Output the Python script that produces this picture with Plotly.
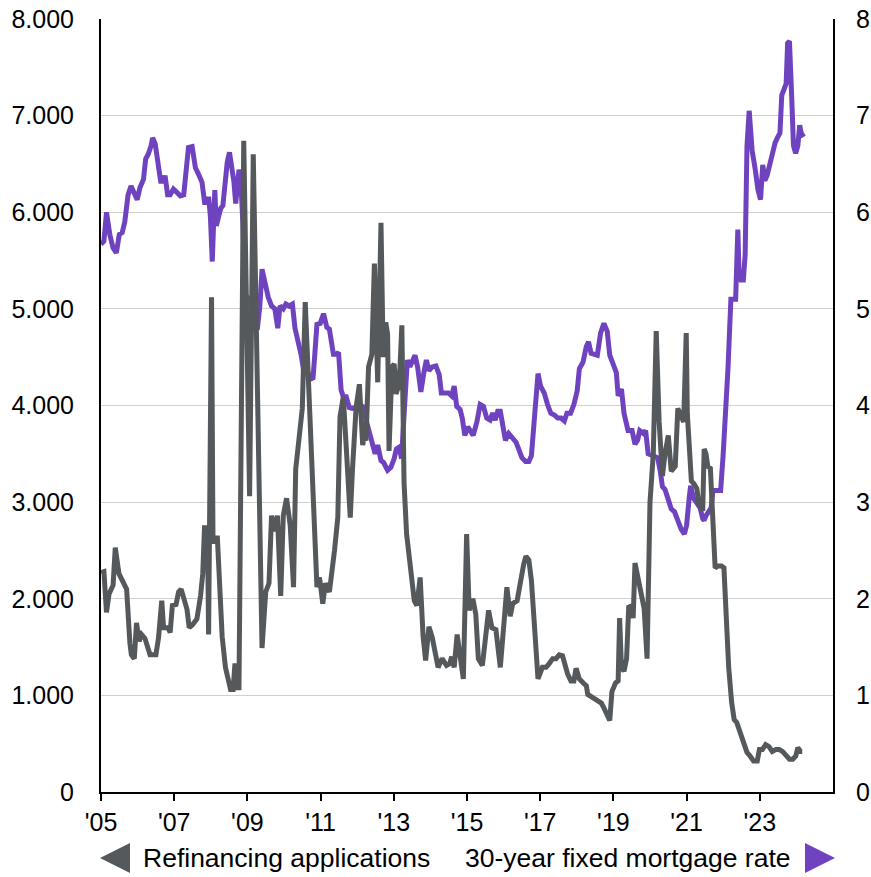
import plotly.graph_objects as go

# Refinancing applications (index, left axis)
refi_years = [
    2005.00, 2005.08, 2005.15, 2005.22, 2005.33, 2005.39, 2005.49, 2005.58, 2005.70, 2005.79,
    2005.83, 2005.91, 2005.97, 2006.04, 2006.11, 2006.20, 2006.28, 2006.34, 2006.40, 2006.50,
    2006.57, 2006.66, 2006.71, 2006.83, 2006.89, 2006.95, 2007.05, 2007.12, 2007.19, 2007.28,
    2007.35, 2007.41, 2007.50, 2007.62, 2007.72, 2007.78, 2007.83, 2007.87, 2007.91, 2007.94,
    2008.02, 2008.06, 2008.13, 2008.18, 2008.24, 2008.31, 2008.40, 2008.50, 2008.54, 2008.61,
    2008.66, 2008.72, 2008.77, 2008.90, 2009.06, 2009.16, 2009.40, 2009.50, 2009.59, 2009.66,
    2009.73, 2009.82, 2009.91, 2009.98, 2010.07, 2010.17, 2010.26, 2010.32, 2010.39, 2010.50,
    2010.58, 2010.65, 2010.76, 2010.83, 2010.90, 2010.97, 2011.06, 2011.13, 2011.24, 2011.38,
    2011.47, 2011.53, 2011.62, 2011.69, 2011.81, 2011.87, 2011.97, 2012.06, 2012.15, 2012.19,
    2012.24, 2012.31, 2012.40, 2012.47, 2012.56, 2012.65, 2012.71, 2012.78, 2012.83, 2012.87,
    2012.95, 2013.01, 2013.06, 2013.12, 2013.17, 2013.22, 2013.28, 2013.35, 2013.42, 2013.56,
    2013.63, 2013.72, 2013.80, 2013.87, 2013.96, 2014.05, 2014.21, 2014.32, 2014.44, 2014.53,
    2014.58, 2014.65, 2014.73, 2014.81, 2014.90, 2014.99, 2015.06, 2015.16, 2015.24, 2015.31,
    2015.42, 2015.51, 2015.59, 2015.68, 2015.79, 2015.91, 2016.00, 2016.09, 2016.18, 2016.25,
    2016.37, 2016.46, 2016.55, 2016.61, 2016.69, 2016.76, 2016.85, 2016.94, 2017.06, 2017.16,
    2017.25, 2017.34, 2017.43, 2017.52, 2017.61, 2017.68, 2017.75, 2017.84, 2017.92, 2017.98,
    2018.07, 2018.17, 2018.26, 2018.30, 2018.39, 2018.49, 2018.58, 2018.67, 2018.74, 2018.83,
    2018.90, 2018.96, 2019.06, 2019.13, 2019.17, 2019.22, 2019.29, 2019.36, 2019.42, 2019.50,
    2019.54, 2019.59, 2019.68, 2019.77, 2019.84, 2019.92, 2020.00, 2020.09, 2020.17, 2020.25,
    2020.34, 2020.41, 2020.50, 2020.58, 2020.69, 2020.76, 2020.83, 2020.92, 2020.99, 2021.02,
    2021.07, 2021.13, 2021.20, 2021.28, 2021.34, 2021.39, 2021.44, 2021.48, 2021.53, 2021.58,
    2021.65, 2021.72, 2021.78, 2021.86, 2021.95, 2022.02, 2022.09, 2022.15, 2022.23, 2022.30,
    2022.37, 2022.46, 2022.55, 2022.65, 2022.74, 2022.83, 2022.93, 2022.99, 2023.07, 2023.16,
    2023.25, 2023.34, 2023.44, 2023.53, 2023.62, 2023.72, 2023.81, 2023.90, 2023.98, 2024.04,
    2024.11, 2024.16,
]
refi_values = [
    2270, 2280, 1860, 2050, 2140, 2530, 2260, 2190, 2100, 1540,
    1420, 1380, 1750, 1560, 1630, 1590, 1490, 1420, 1420, 1420,
    1590, 1980, 1700, 1700, 1650, 1930, 1940, 2070, 2100, 1980,
    1890, 1700, 1730, 1790, 2030, 2260, 2760, 2530, 2720, 1630,
    5120, 2580, 2630, 2630, 2070, 1610, 1290, 1100, 1060, 1060,
    1330, 1080, 1080, 6740, 3060, 6600, 1490, 2070, 2160, 2860,
    2700, 2860, 2030, 2860, 3040, 2760, 2120, 3340, 3550, 3970,
    5070, 4380, 3460, 2910, 2120, 2220, 1950, 2160, 2070, 2500,
    2840, 3880, 4090, 3640, 2840, 3330, 3980, 4220, 3590, 3670,
    3640, 4400, 4530, 5470, 4240, 5890, 4500, 4860, 4740, 3530,
    4400, 4430, 4120, 4190, 4400, 4830, 3200, 2670, 2430, 1980,
    1930, 2220, 1610, 1360, 1710, 1600, 1290, 1380, 1310, 1330,
    1400, 1290, 1630, 1380, 1170, 2670, 1880, 2000, 1840, 1380,
    1310, 1610, 1880, 1700, 1680, 1290, 1750, 2120, 1820, 1950,
    1980, 2190, 2360, 2440, 2400, 2190, 1610, 1170, 1290, 1290,
    1330, 1380, 1380, 1420, 1410, 1310, 1220, 1150, 1150, 1280,
    1170, 1130, 1100, 1010, 990, 960, 940, 920, 870, 800,
    740, 1040, 1130, 1150, 1800, 1290, 1250, 1380, 1930, 1900,
    1800, 2370, 2190, 2030, 1900, 1380, 3000, 3500, 4770, 3830,
    3270, 3500, 3690, 3320, 3370, 3970, 3920, 3830, 4750, 3910,
    3600, 3220, 3190, 3140, 2960, 2980, 2910, 3550, 3500, 3370,
    3350, 2680, 2320, 2340, 2340, 2320, 1650, 1290, 930, 750,
    720, 620, 510, 410, 370, 320, 320, 440, 440, 490,
    470, 420, 440, 440, 420, 370, 340, 340, 370, 460,
    420, 420,
]

# 30-year fixed mortgage rate (%, right axis)
rate_years = [
    2005.00, 2005.08, 2005.15, 2005.24, 2005.33, 2005.42, 2005.50, 2005.58, 2005.65, 2005.74,
    2005.82, 2005.91, 2005.99, 2006.06, 2006.16, 2006.22, 2006.29, 2006.37, 2006.41, 2006.48,
    2006.55, 2006.63, 2006.71, 2006.75, 2006.82, 2006.89, 2006.98, 2007.07, 2007.17, 2007.26,
    2007.32, 2007.39, 2007.49, 2007.58, 2007.67, 2007.76, 2007.83, 2007.91, 2007.94, 2007.99,
    2008.04, 2008.08, 2008.11, 2008.15, 2008.20, 2008.27, 2008.33, 2008.39, 2008.45, 2008.51,
    2008.57, 2008.63, 2008.68, 2008.72, 2008.77, 2008.82, 2008.88, 2008.94, 2009.00, 2009.09,
    2009.18, 2009.28, 2009.34, 2009.40, 2009.48, 2009.57, 2009.66, 2009.75, 2009.83, 2009.89,
    2009.98, 2010.05, 2010.14, 2010.23, 2010.30, 2010.39, 2010.47, 2010.53, 2010.62, 2010.72,
    2010.79, 2010.83, 2010.90, 2010.99, 2011.08, 2011.17, 2011.24, 2011.35, 2011.43, 2011.49,
    2011.56, 2011.62, 2011.70, 2011.78, 2011.87, 2011.98, 2012.10, 2012.15, 2012.28, 2012.42,
    2012.49, 2012.56, 2012.65, 2012.72, 2012.83, 2012.92, 2013.01, 2013.07, 2013.15, 2013.21,
    2013.28, 2013.37, 2013.44, 2013.51, 2013.58, 2013.65, 2013.74, 2013.83, 2013.89, 2013.96,
    2014.05, 2014.15, 2014.24, 2014.30, 2014.39, 2014.49, 2014.58, 2014.65, 2014.72, 2014.81,
    2014.87, 2014.94, 2015.02, 2015.08, 2015.17, 2015.27, 2015.36, 2015.45, 2015.54, 2015.63,
    2015.70, 2015.77, 2015.84, 2015.91, 2015.97, 2016.05, 2016.14, 2016.23, 2016.34, 2016.41,
    2016.50, 2016.60, 2016.69, 2016.76, 2016.83, 2016.89, 2016.94, 2017.01, 2017.11, 2017.20,
    2017.29, 2017.39, 2017.48, 2017.57, 2017.66, 2017.73, 2017.83, 2017.92, 2018.01, 2018.07,
    2018.17, 2018.26, 2018.32, 2018.39, 2018.49, 2018.56, 2018.65, 2018.74, 2018.83, 2018.90,
    2018.99, 2019.08, 2019.13, 2019.22, 2019.29, 2019.40, 2019.51, 2019.59, 2019.66, 2019.72,
    2019.82, 2019.88, 2019.95, 2020.05, 2020.14, 2020.21, 2020.28, 2020.34, 2020.41, 2020.49,
    2020.58, 2020.67, 2020.76, 2020.85, 2020.94, 2021.00, 2021.07, 2021.11, 2021.19, 2021.25,
    2021.32, 2021.37, 2021.44, 2021.48, 2021.53, 2021.60, 2021.67, 2021.72, 2021.78, 2021.86,
    2021.93, 2022.00, 2022.06, 2022.13, 2022.21, 2022.27, 2022.34, 2022.40, 2022.43, 2022.49,
    2022.55, 2022.60, 2022.65, 2022.71, 2022.79, 2022.88, 2022.95, 2023.02, 2023.08, 2023.14,
    2023.20, 2023.27, 2023.34, 2023.42, 2023.48, 2023.55, 2023.60, 2023.67, 2023.72, 2023.76,
    2023.81, 2023.87, 2023.92, 2023.98, 2024.04, 2024.09, 2024.13, 2024.20,
]
rate_values = [
    5.67, 5.70, 6.00, 5.77, 5.63, 5.58, 5.77, 5.79, 5.90, 6.18,
    6.27, 6.20, 6.13, 6.25, 6.34, 6.55, 6.60, 6.69, 6.77, 6.71,
    6.50, 6.32, 6.32, 6.38, 6.18, 6.18, 6.24, 6.20, 6.17, 6.18,
    6.41, 6.67, 6.68, 6.46, 6.39, 6.31, 6.10, 6.10, 6.16, 5.95,
    5.49, 5.95, 6.23, 5.86, 5.95, 6.04, 6.07, 6.32, 6.52, 6.62,
    6.50, 6.32, 6.09, 6.34, 6.44, 6.32, 5.86, 5.12, 5.12, 5.07,
    4.84, 4.82, 5.03, 5.41, 5.26, 5.12, 5.03, 5.00, 4.80, 5.03,
    5.00, 5.05, 5.03, 5.05, 4.80, 4.66, 4.52, 4.38, 4.36, 4.29,
    4.27, 4.47, 4.84, 4.85, 4.95, 4.81, 4.79, 4.53, 4.53, 4.55,
    4.16, 4.09, 4.09, 3.98, 3.97, 3.98, 3.97, 3.98, 3.78, 3.60,
    3.50, 3.59, 3.43, 3.41, 3.33, 3.36, 3.45, 3.55, 3.57, 3.45,
    3.95, 4.47, 4.40, 4.48, 4.52, 4.40, 4.14, 4.36, 4.47, 4.36,
    4.40, 4.41, 4.32, 4.13, 4.13, 4.13, 4.10, 4.20, 3.99, 3.96,
    3.87, 3.69, 3.78, 3.74, 3.69, 3.83, 4.01, 3.99, 3.87, 3.85,
    3.92, 3.85, 3.94, 3.94, 3.78, 3.64, 3.71, 3.67, 3.62, 3.55,
    3.46, 3.42, 3.42, 3.48, 3.87, 4.20, 4.33, 4.20, 4.13, 4.01,
    3.92, 3.90, 3.87, 3.87, 3.84, 3.92, 3.92, 4.01, 4.15, 4.38,
    4.45, 4.61, 4.66, 4.54, 4.52, 4.52, 4.75, 4.85, 4.77, 4.52,
    4.43, 4.34, 4.10, 4.17, 3.92, 3.74, 3.74, 3.60, 3.64, 3.74,
    3.71, 3.74, 3.50, 3.48, 3.46, 3.46, 3.32, 3.16, 3.13, 3.04,
    2.93, 2.90, 2.81, 2.72, 2.67, 2.76, 3.04, 3.17, 3.04, 3.00,
    2.96, 2.94, 2.83, 2.81, 2.86, 2.91, 2.94, 3.12, 3.12, 3.12,
    3.12, 3.50, 3.86, 4.38, 5.10, 5.10, 5.10, 5.82, 5.41, 5.30,
    5.30, 5.56, 6.69, 7.05, 6.64, 6.43, 6.23, 6.13, 6.49, 6.33,
    6.38, 6.49, 6.61, 6.72, 6.77, 6.82, 7.21, 7.28, 7.33, 7.75,
    7.77, 7.21, 6.69, 6.61, 6.69, 6.90, 6.82, 6.78,
]

x_tick_vals = [2005, 2007, 2009, 2011, 2013, 2015, 2017, 2019, 2021, 2023]
x_tick_text = ["'05", "'07", "'09", "'11", "'13", "'15", "'17", "'19", "'21", "'23"]
left_tick_vals = [0, 1000, 2000, 3000, 4000, 5000, 6000, 7000, 8000]
left_tick_text = ["0", "1.000", "2.000", "3.000", "4.000", "5.000", "6.000", "7.000", "8.000"]
right_tick_vals = [0, 1, 2, 3, 4, 5, 6, 7, 8]
right_tick_text = ["0", "1", "2", "3", "4", "5", "6", "7", "8"]

GRAY = "#55595c"
PURPLE = "#6f43bf"
FONT = "Liberation Sans, Arial, sans-serif"
FS = 25

fig = go.Figure()
fig.add_trace(go.Scatter(x=rate_years, y=rate_values, mode="lines", yaxis="y",
                         line=dict(color=PURPLE, width=5), name="30-year fixed mortgage rate"))
fig.add_trace(go.Scatter(x=refi_years, y=refi_values, mode="lines", yaxis="y2",
                         line=dict(color=GRAY, width=5), name="Refinancing applications"))

fig.update_layout(
    width=871, height=877,
    margin=dict(l=101, r=38, t=19, b=85),
    paper_bgcolor="white", plot_bgcolor="white",
    showlegend=False,
    font=dict(family=FONT, size=FS, color="black"),
    xaxis=dict(range=[2005, 2025], tickvals=x_tick_vals, ticktext=x_tick_text, automargin=False,
               showgrid=False, zeroline=False, showline=True, linecolor="black", linewidth=2,
               ticks="outside", ticklen=7, tickwidth=2, tickcolor="black"),
    yaxis=dict(range=[0, 8], tickvals=right_tick_vals, ticktext=right_tick_text, side="right",
               automargin=False,
               showgrid=True, gridcolor="#d0d0d0", gridwidth=1, zeroline=False,
               showline=True, linecolor="black", linewidth=2, ticks="", ticklabelstandoff=16),
    yaxis2=dict(range=[0, 8000], tickvals=left_tick_vals, ticktext=left_tick_text, side="left",
                automargin=False,
                overlaying="y", showgrid=False, zeroline=False,
                showline=True, linecolor="black", linewidth=2, ticks="", ticklabelstandoff=20),
)

def px_to_paper_x(px):
    return (px - 101) / 732

def py_to_paper_y(py):
    return (792 - py) / 773

# Legend markers (triangles) and labels
fig.add_shape(type="path", xref="paper", yref="paper",
              path="M {} {} L {} {} L {} {} Z".format(px_to_paper_x(100), py_to_paper_y(858),
                                                      px_to_paper_x(130), py_to_paper_y(843),
                                                      px_to_paper_x(130), py_to_paper_y(873)),
              fillcolor=GRAY, line=dict(width=0))
fig.add_shape(type="path", xref="paper", yref="paper",
              path="M {} {} L {} {} L {} {} Z".format(px_to_paper_x(835), py_to_paper_y(858),
                                                      px_to_paper_x(805), py_to_paper_y(843),
                                                      px_to_paper_x(805), py_to_paper_y(873)),
              fillcolor=PURPLE, line=dict(width=0))
fig.add_annotation(x=px_to_paper_x(141), y=py_to_paper_y(858), xref="paper", yref="paper",
                   text="Refinancing applications", showarrow=False, xanchor="left", yanchor="middle",
                   font=dict(family=FONT, size=26.5, color="black"))
fig.add_annotation(x=px_to_paper_x(793), y=py_to_paper_y(858), xref="paper", yref="paper",
                   text="30-year fixed mortgage rate", showarrow=False, xanchor="right", yanchor="middle",
                   font=dict(family=FONT, size=26.5, color="black"))

fig.write_html("out.html", config={"displayModeBar": False},
               post_script="document.body.style.margin='0';document.body.style.overflow='hidden';")
